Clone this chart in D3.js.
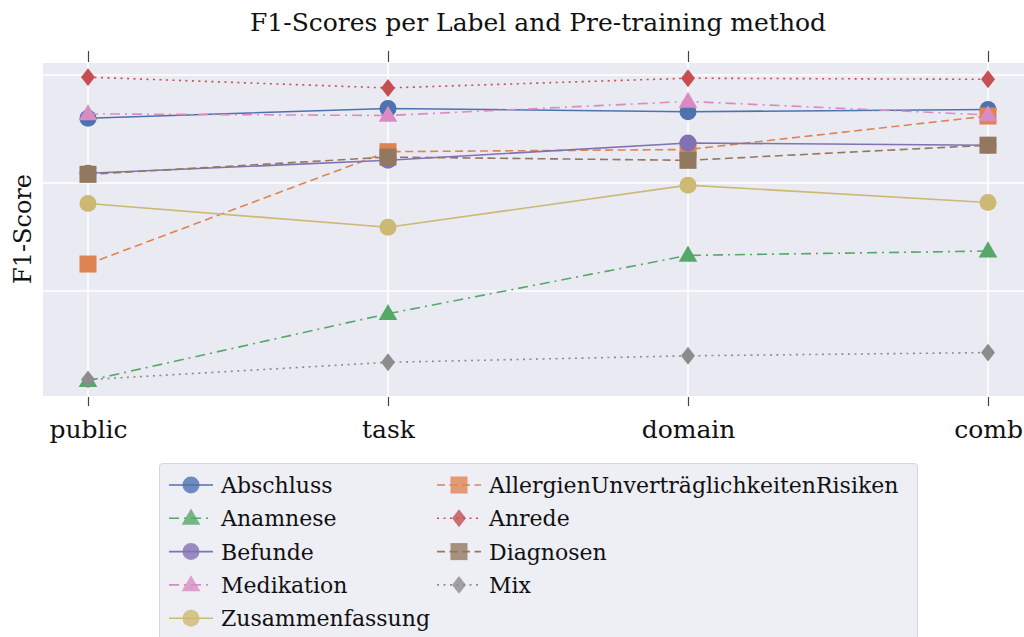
<!DOCTYPE html>
<html>
<head>
<meta charset="utf-8">
<script src="https://cdn.jsdelivr.net/npm/d3@7"></script>
<style>
  body { margin: 0; background: #fff; }
  svg text { font-family: "DejaVu Serif", "Liberation Serif", serif; fill: #111; }
</style>
</head>
<body>
<div id="chart"></div>
<script>
// data
var methods = ["public", "task", "domain", "comb"];
var labels = ["Abschluss", "AllergienUnverträglichkeitenRisiken", "Anamnese", "Anrede",
  "Befunde", "Diagnosen", "Medikation", "Mix", "Zusammenfassung"];

var abschluss = [0.860, 0.869, 0.866, 0.868];
var allergien = [0.725, 0.829, 0.831, 0.862];
var anamnese = [0.617, 0.679, 0.733, 0.737];
var anrede = [0.898, 0.888, 0.897, 0.896];
var befunde = [0.809, 0.821, 0.837, 0.835];
var diagnosen = [0.808, 0.824, 0.821, 0.835];
var medikation = [0.864, 0.8625, 0.8755, 0.863];
var mix = [0.618, 0.634, 0.640, 0.643];
var zusammenfassung = [0.781, 0.759, 0.798, 0.782];

var gridTicks = [0.7, 0.8, 0.9];

var seriesValues = [abschluss, allergien, anamnese, anrede, befunde, diagnosen, medikation, mix, zusammenfassung];

var colors = ["#4C72B0", "#DD8452", "#55A868", "#C44E52", "#8172B3", "#937860", "#DA8BC3", "#8C8C8C", "#CCB974"];
var markers = ["circle", "square", "triangle", "diamond"];
var dashes = [null, "8,4.5", "10,5,2,5", "2,4.5"];

//Create Containers
var svgWidth = 1024;
var svgHeight = 637;

var margin = { top: 63, left: 43, right: -9, bottom: 241 };
var width = svgWidth - margin.left - margin.right;
var height = svgHeight - margin.top - margin.bottom;

var serif = "'DejaVu Serif', 'Liberation Serif', serif";

var svg = d3.select("#chart")
  .append("svg")
  .attr("width", svgWidth)
  .attr("height", svgHeight);

var chartGroup = svg.append("g")
  .attr("transform", `translate(${margin.left}, ${margin.top})`);

//scales
var xScale = d3.scalePoint()
  .domain(methods)
  .range([0, width])
  .padding(0.15);

var yScale = d3.scaleLinear()
  .domain([0.6028, 0.9111])
  .range([height, 0]);

//background + grid
chartGroup.append("rect")
  .attr("width", width)
  .attr("height", height)
  .attr("fill", "#EAEAF2");

chartGroup.selectAll(".hgrid")
  .data(gridTicks)
  .enter()
  .append("line")
  .attr("x1", 0)
  .attr("x2", width)
  .attr("y1", d => yScale(d))
  .attr("y2", d => yScale(d))
  .attr("stroke", "#fff")
  .attr("stroke-width", 1.5);

chartGroup.selectAll(".vgrid")
  .data(methods)
  .enter()
  .append("line")
  .attr("x1", d => xScale(d))
  .attr("x2", d => xScale(d))
  .attr("y1", 0)
  .attr("y2", height)
  .attr("stroke", "#fff")
  .attr("stroke-width", 1.5);

//axes (ticks top and bottom)
var xAxisBottom = d3.axisBottom(xScale).tickSizeOuter(0).tickSize(9).tickPadding(14);
var gx = chartGroup.append("g")
  .attr("transform", `translate(0, ${height + 1})`)
  .call(xAxisBottom);
gx.select(".domain").remove();
gx.selectAll(".tick line").attr("stroke", "#444").attr("stroke-width", 1.2);
gx.selectAll(".tick text")
  .attr("font-family", serif)
  .attr("font-size", 25)
  .attr("fill", "#111");

var xAxisTop = d3.axisTop(xScale).tickSizeOuter(0).tickSize(11).tickFormat("");
var gxt = chartGroup.append("g")
  .attr("transform", `translate(0, -1)`)
  .call(xAxisTop);
gxt.select(".domain").remove();
gxt.selectAll(".tick line").attr("stroke", "#444").attr("stroke-width", 1.2);

//marker shapes
function symbolFor(m) {
  if (m === "circle") return d3.symbol().type(d3.symbolCircle).size(227);
  if (m === "square") return d3.symbol().type(d3.symbolSquare).size(290);
  if (m === "triangle") return d3.symbol().type(d3.symbolTriangle).size(150);
  return d3.symbol().type(d3.symbolSquare).size(160);
}
function markerTransform(m, x, y) {
  if (m === "triangle") return `translate(${x},${y + 1})`;
  if (m === "diamond") return `translate(${x},${y}) scale(0.78,1) rotate(45)`;
  return `translate(${x},${y})`;
}

var line = d3.line()
  .x((d, i) => xScale(methods[i]))
  .y(d => yScale(d));

//generate lines
seriesValues.forEach(function (vals, s) {
  var g = chartGroup.append("g");
  var m = markers[s % 4];
  g.append("path")
    .datum(vals)
    .attr("d", line)
    .attr("fill", "none")
    .attr("stroke", colors[s])
    .attr("stroke-width", 1.6)
    .attr("stroke-dasharray", dashes[s % 4]);
  g.selectAll("path.mk")
    .data(vals)
    .enter()
    .append("path")
    .attr("class", "mk")
    .attr("d", symbolFor(m))
    .attr("transform", (d, i) => markerTransform(m, xScale(methods[i]), yScale(d)))
    .attr("fill", colors[s]);
});

//title and y label
svg.append("text")
  .attr("x", 538)
  .attr("y", 31)
  .attr("text-anchor", "middle")
  .attr("font-family", serif)
  .attr("font-size", 25)
  .text("F1-Scores per Label and Pre-training method");

svg.append("text")
  .attr("transform", "translate(31, 229) rotate(-90)")
  .attr("text-anchor", "middle")
  .attr("font-family", serif)
  .attr("font-size", 24)
  .text("F1-Score");

//legend
var legend = svg.append("g");
legend.append("rect")
  .attr("x", 159.5)
  .attr("y", 463.5)
  .attr("width", 758)
  .attr("height", 190)
  .attr("rx", 3)
  .attr("fill", "#EEEEF5")
  .attr("stroke", "#D6D6D6");

labels.forEach(function (name, s) {
  var col = s % 2;
  var row = Math.floor(s / 2);
  var hx = 169 + col * 268;
  var cy = 485 + row * 33.3;
  var m = markers[s % 4];
  var it = legend.append("g");
  it.append("line")
    .attr("x1", hx).attr("x2", hx + 44)
    .attr("y1", cy).attr("y2", cy)
    .attr("stroke", colors[s])
    .attr("stroke-width", 1.6)
    .attr("stroke-dasharray", dashes[s % 4]);
  it.append("path")
    .attr("d", symbolFor(m)())
    .attr("transform", markerTransform(m, hx + 22, cy))
    .attr("fill", colors[s])
    .attr("opacity", 0.8);
  it.append("text")
    .attr("x", hx + 52)
    .attr("y", cy + 8)
    .attr("font-family", serif)
    .attr("font-size", 22)
    .text(name);
});
</script>
</body>
</html>
